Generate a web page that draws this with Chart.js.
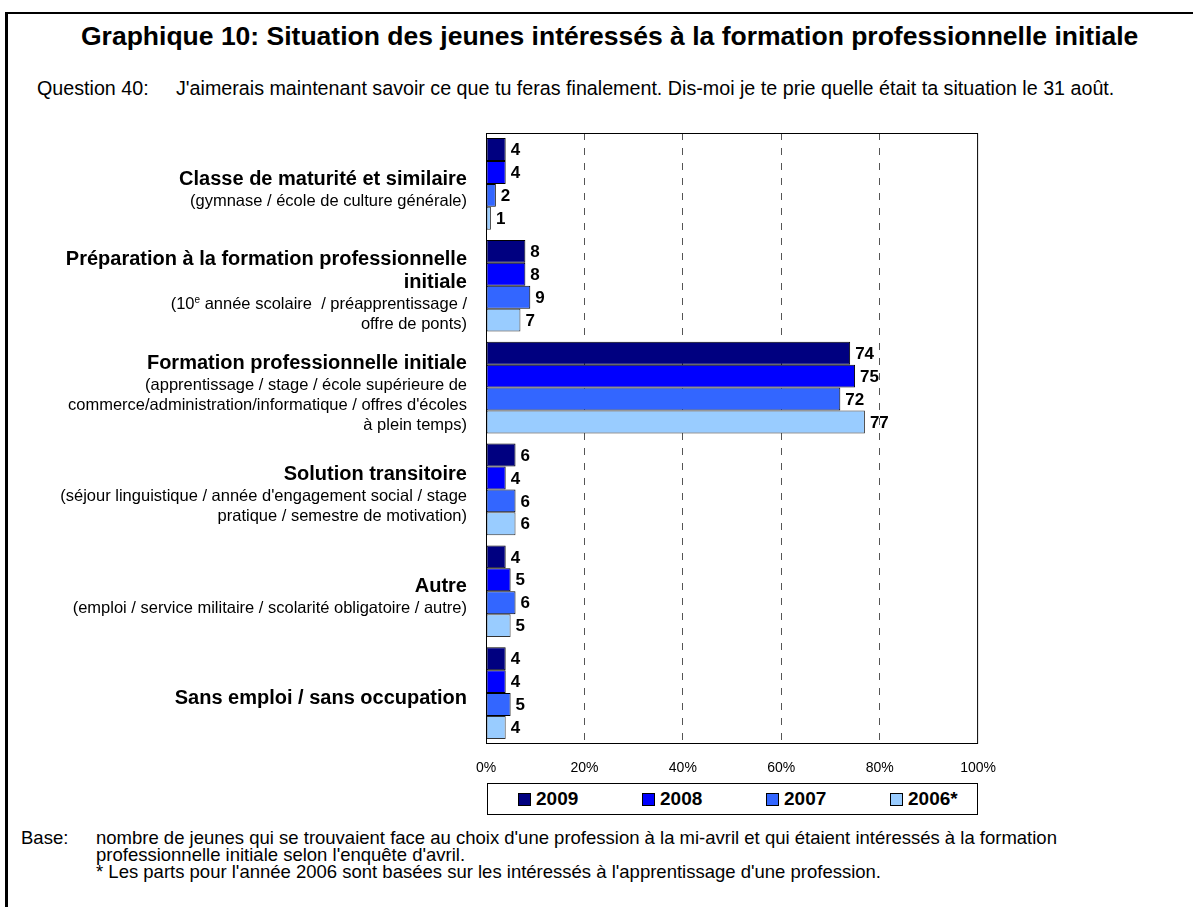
<!DOCTYPE html>
<html lang="fr">
<head>
    <meta charset="UTF-8">
    <title>Graphique 10 - Situation des jeunes</title>
    <script src="https://cdn.jsdelivr.net/npm/chart.js@4"></script>
    <style>
        body { margin: 0; width: 1193px; height: 907px; position: relative; overflow: hidden; background: #fff; color: #000; font-family: "Liberation Sans", Arial, sans-serif; }
        .frame { position: absolute; left: 5px; top: 12px; width: 1300px; height: 1000px; border-top: 2px solid #000; border-left: 3px solid #000; }
        .title { position: absolute; left: 81px; top: 23px; font-size: 26.5px; line-height: 26px; font-weight: bold; white-space: nowrap; }
        .question { position: absolute; top: 78px; font-size: 19.7px; line-height: 20px; white-space: nowrap; }
        .chart-box { position: absolute; left: 0; top: 0; width: 1012px; height: 776px; }
        .ylabel { position: absolute; text-align: right; white-space: pre; transform: translateY(-50%); }
        .ylabel .main { font-size: 20px; line-height: 23px; font-weight: bold; }
        .ylabel .sub { font-size: 16.5px; line-height: 20px; }
        .ylabel sup { font-size: 10px; line-height: 0; vertical-align: 6px; }
        .legend { position: absolute; left: 487px; top: 783px; width: 489px; height: 30px; border: 1px solid #000; }
        .legend-item { position: absolute; top: 0; height: 30px; display: flex; align-items: center; font-size: 19px; font-weight: bold; white-space: nowrap; }
        .legend-item span.box { display: inline-block; width: 11px; height: 11px; border: 1px solid #000; margin-right: 5px; }
        .foot { position: absolute; font-size: 18.5px; line-height: 17px; white-space: nowrap; }
    </style>
</head>
<body>
    <div class="frame"></div>
    <div class="title">Graphique 10: Situation des jeunes intéressés à la formation professionnelle initiale</div>
    <div class="question" style="left:37px">Question 40:</div>
    <div class="question" style="left:176px">J'aimerais maintenant savoir ce que tu feras finalement. Dis-moi je te prie quelle était ta situation le 31 août.</div>

    <div class="chart-box"><canvas id="chart"></canvas></div>
    <div id="ylabels"></div>
    <div class="legend" id="legend"></div>

    <div class="foot" style="left:21px; top:829px">Base:</div>
    <div class="foot" style="left:96px; top:829px">nombre de jeunes qui se trouvaient face au choix d'une profession à la mi-avril et qui étaient intéressés à la formation<br>professionnelle initiale selon l'enquête d'avril.<br>* Les parts pour l'année 2006 sont basées sur les intéressés à l'apprentissage d'une profession.</div>

    <script>
    // catégories (titre en gras + précisions)
    const categoryTitles = [
        ['Classe de maturité et similaire'],
        ['Préparation à la formation professionnelle', 'initiale'],
        ['Formation professionnelle initiale'],
        ['Solution transitoire'],
        ['Autre'],
        ['Sans emploi / sans occupation']
    ];
    const categoryDetails = [
        ['(gymnase / école de culture générale)'],
        ['(10e année scolaire  / préapprentissage /', 'offre de ponts)'],
        ['(apprentissage / stage / école supérieure de', 'commerce/administration/informatique / offres d\'écoles', 'à plein temps)'],
        ['(séjour linguistique / année d\'engagement social / stage', 'pratique / semestre de motivation)'],
        ['(emploi / service militaire / scolarité obligatoire / autre)'],
        []
    ];

    const years = ['2009', '2008', '2007', '2006*'];
    const values2009 = [4, 8, 74, 6, 4, 4];
    const values2008 = [4, 8, 75, 4, 5, 4];
    const values2007 = [2, 9, 72, 6, 6, 5];
    const values2006 = [1, 7, 77, 6, 5, 4];
    const xTicks = [0, 20, 40, 60, 80, 100];

    const barColors = ['#000080', '#0000FF', '#3366FF', '#99CCFF'];
    const FONT = '"Liberation Sans", Arial, sans-serif';

    // chiffres à droite des barres
    const valueLabels = {
        id: 'valueLabels',
        afterDatasetsDraw(chart) {
            const ctx = chart.ctx;
            ctx.save();
            ctx.font = 'bold 17px ' + FONT;
            ctx.fillStyle = '#000';
            ctx.textAlign = 'left';
            ctx.textBaseline = 'middle';
            chart.data.datasets.forEach((ds, i) => {
                chart.getDatasetMeta(i).data.forEach((bar, j) => {
                    ctx.fillText(ds.data[j], bar.x + 5, bar.y + 1);
                });
            });
            ctx.restore();
        }
    };

    // cadre de la zone de tracé
    const plotFrame = {
        id: 'plotFrame',
        afterDraw(chart) {
            const {ctx, chartArea: a} = chart;
            ctx.save();
            ctx.strokeStyle = '#000';
            ctx.lineWidth = 1;
            ctx.strokeRect(a.left + 0.5, a.top + 0.5, a.right - a.left - 1, a.bottom - a.top - 1);
            ctx.restore();
        }
    };

    const datasets = [values2009, values2008, values2007, values2006].map((vals, i) => ({
        label: years[i],
        data: vals,
        backgroundColor: barColors[i],
        borderColor: i === 3 ? '#333' : '#000',
        borderWidth: 1,
        borderSkipped: false,
        categoryPercentage: 0.9,
        barPercentage: 1
    }));

    const chart = new Chart(document.getElementById('chart'), {
        type: 'bar',
        data: {
            labels: categoryTitles.map(t => t.join(' ')),
            datasets: datasets
        },
        options: {
            indexAxis: 'y',
            responsive: true,
            maintainAspectRatio: false,
            animation: false,
            devicePixelRatio: 1,
            layout: { padding: { top: 133, right: 11, left: 0, bottom: 0 } },
            plugins: {
                legend: { display: false },
                tooltip: { enabled: false }
            },
            scales: {
                x: {
                    min: 0,
                    max: 100,
                    afterBuildTicks: s => { s.ticks = xTicks.map(v => ({ value: v })); },
                    ticks: {
                        callback: v => v + '%',
                        color: '#000',
                        font: { size: 14, family: FONT },
                        padding: 16,
                        maxRotation: 0
                    },
                    grid: {
                        drawTicks: false,
                        lineWidth: 1,
                        color: c => (c.tick && (c.tick.value === 0 || c.tick.value === 100)) ? 'rgba(0,0,0,0)' : '#555'
                    },
                    border: { display: false, dash: [7, 8] },
                    afterFit: s => { s.height = 32; }
                },
                y: {
                    ticks: { display: false },
                    grid: { display: false },
                    border: { display: false },
                    afterFit: s => { s.width = 486; }
                }
            }
        },
        plugins: [valueLabels, plotFrame]
    });

    // libellés des catégories, placés avec l'échelle y
    const yScale = chart.scales.y;
    const holder = document.getElementById('ylabels');
    categoryTitles.forEach((lines, i) => {
        const div = document.createElement('div');
        div.className = 'ylabel';
        let html = lines.map(l => '<div class="main">' + l + '</div>').join('');
        html += categoryDetails[i].map(l => '<div class="sub">' + l.replace('10e ', '10<sup>e</sup> ') + '</div>').join('');
        div.innerHTML = html;
        div.style.right = (1193 - 467) + 'px';
        div.style.top = (yScale.getPixelForValue(i) + 4) + 'px';
        holder.appendChild(div);
    });

    // légende
    const legend = document.getElementById('legend');
    chart.data.datasets.forEach((ds, i) => {
        const item = document.createElement('div');
        item.className = 'legend-item';
        item.style.left = (30 + i * 124) + 'px';
        item.innerHTML = '<span class="box" style="background:' + ds.backgroundColor + '"></span>' + ds.label;
        legend.appendChild(item);
    });
    </script>
</body>
</html>
